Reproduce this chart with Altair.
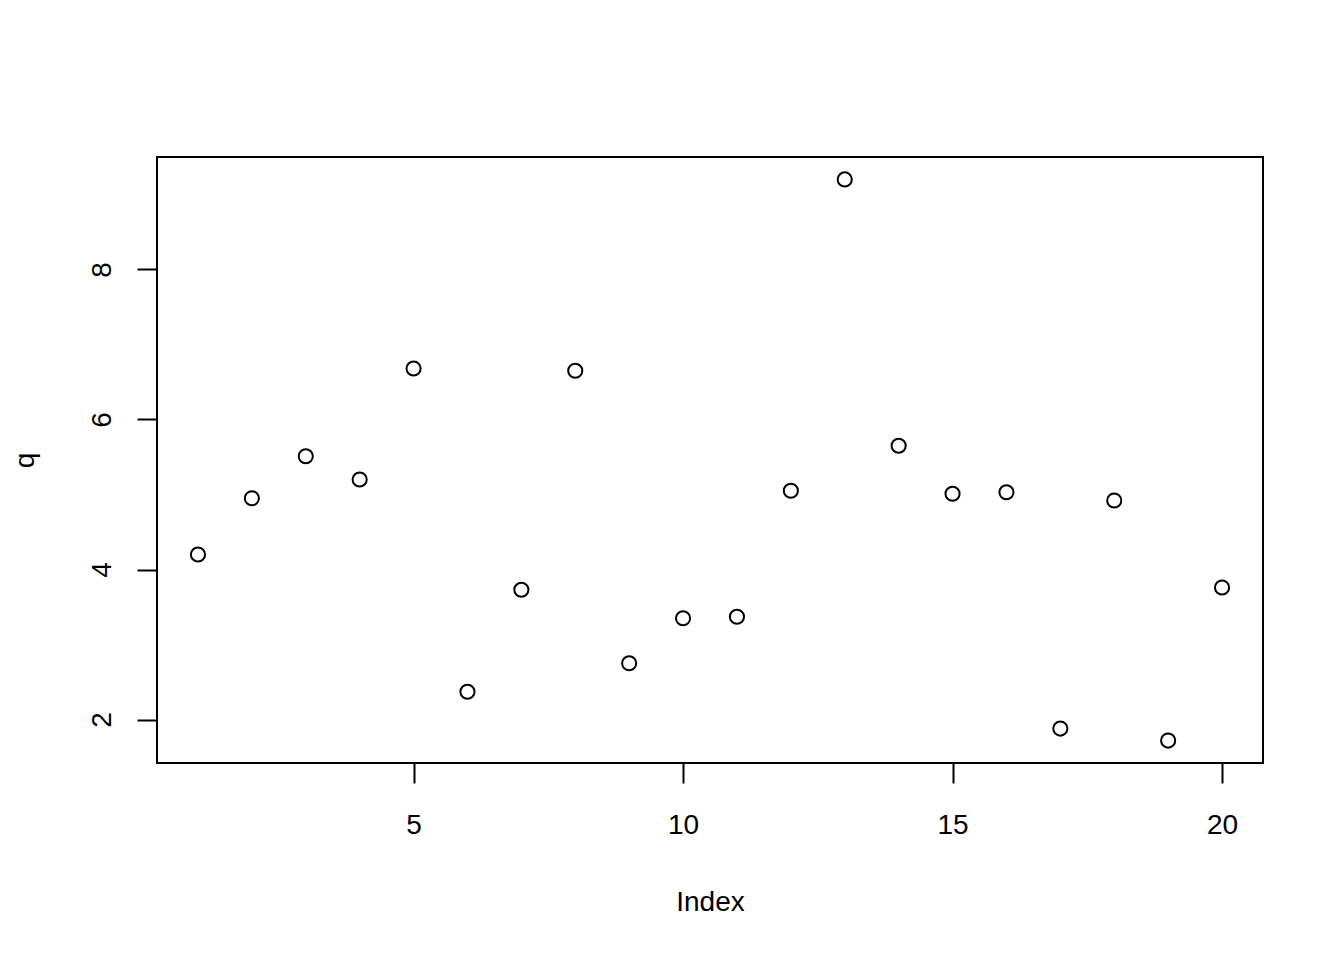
import altair as alt
import pandas as pd

index = list(range(1, 21))
q = [4.20, 4.95, 5.51, 5.20, 6.68, 2.37, 3.73, 6.65, 2.75, 3.35,
     3.37, 5.05, 9.20, 5.65, 5.01, 5.03, 1.88, 4.92, 1.72, 3.76]
x_ticks = [5, 10, 15, 20]
y_ticks = [2, 4, 6, 8]

df = pd.DataFrame({"Index": index, "q": q})

xmin, xmax = min(index), max(index)
ymin, ymax = min(q), max(q)
xpad = (xmax - xmin) * 0.04
ypad = (ymax - ymin) * 0.04

FONT = "Liberation Sans"

chart = alt.Chart(df).mark_point(
    shape="circle", filled=False, size=200, stroke="black", strokeWidth=2, opacity=1
).encode(
    x=alt.X("Index:Q",
            scale=alt.Scale(domain=[xmin - xpad, xmax + xpad], nice=False, zero=False),
            axis=alt.Axis(values=x_ticks, title="Index", grid=False, domain=False,
                          tickSize=20, tickWidth=2, tickColor="black",
                          labelFont=FONT, labelFontSize=28, labelColor="black",
                          labelPadding=28, labelFlush=False,
                          titleFont=FONT, titleFontSize=28, titleFontWeight="normal",
                          titleColor="black", titleBaseline="alphabetic",
                          titleY=147, titleAnchor="middle")),
    y=alt.Y("q:Q",
            scale=alt.Scale(domain=[ymin - ypad, ymax + ypad], nice=False, zero=False),
            axis=alt.Axis(values=y_ticks, title="q", grid=False, domain=False,
                          tickSize=20, tickWidth=2, tickColor="black",
                          labelFont=FONT, labelFontSize=28, labelColor="black",
                          labelAngle=270, labelAlign="center", labelBaseline="alphabetic",
                          labelPadding=27, labelFlush=False,
                          titleFont=FONT, titleFontSize=28, titleFontWeight="normal",
                          titleColor="black", titleBaseline="alphabetic",
                          titleAngle=270, titleX=-124, titleY=303, titleAnchor="middle")),
).properties(
    width=1106, height=606,
    background="white",
    autosize=alt.AutoSizeParams(type="none"),
    padding={"left": 149, "top": 149, "right": 60, "bottom": 180},
).configure_view(
    stroke="black", strokeWidth=2
)

chart.save("out.html", embed_options={"renderer": "svg", "actions": False})
